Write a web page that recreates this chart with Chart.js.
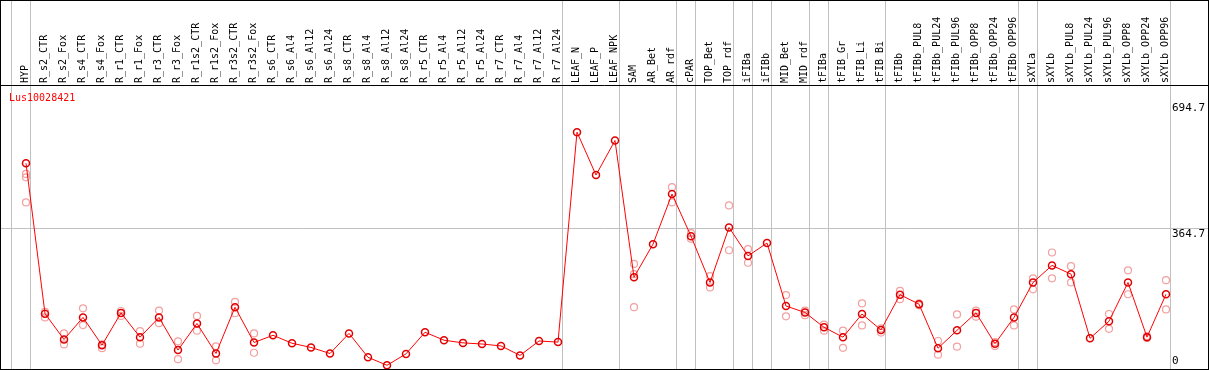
<!DOCTYPE html>
<html>
<head>
<meta charset="UTF-8">
<title>Lus10028421</title>
<script src="https://cdn.jsdelivr.net/npm/chart.js@4"></script>
<style>
  body { margin: 0; background: #fff; }
  canvas { display: block; }
</style>
</head>
<body>
<canvas id="chart" width="1209" height="370"></canvas>
<script>
  const geneId = "Lus10028421";

  const categories = [
    "HYP", "R_s2_CTR", "R_s2_Fox", "R_s4_CTR", "R_s4_Fox", "R_r1_CTR", "R_r1_Fox", "R_r3_CTR", "R_r3_Fox",
    "R_r1s2_CTR", "R_r1s2_Fox", "R_r3s2_CTR", "R_r3s2_Fox", "R_s6_CTR", "R_s6_Al4", "R_s6_Al12", "R_s6_Al24",
    "R_s8_CTR", "R_s8_Al4", "R_s8_Al12", "R_s8_Al24", "R_r5_CTR", "R_r5_Al4", "R_r5_Al12", "R_r5_Al24",
    "R_r7_CTR", "R_r7_Al4", "R_r7_Al12", "R_r7_Al24", "LEAF_N", "LEAF_P", "LEAF_NPK", "SAM", "AR_Bet", "AR_rdf",
    "cPAR", "TOP_Bet", "TOP_rdf", "iFIBa", "iFIBb", "MID_Bet", "MID_rdf", "tFIBa", "tFIB_Gr", "tFIB_Li", "tFIB_Bi",
    "tFIBb", "tFIBb_PUL8", "tFIBb_PUL24", "tFIBb_PUL96", "tFIBb_OPP8", "tFIBb_OPP24", "tFIBb_OPP96",
    "sXYLa", "sXYLb", "sXYLb_PUL8", "sXYLb_PUL24", "sXYLb_PUL96", "sXYLb_OPP8", "sXYLb_OPP24", "sXYLb_OPP96"
  ];

  // mean expression per sample
  const means = [
    536, 140, 72, 130, 57, 142, 78, 130, 44, 114, 35, 157, 64,
    83, 62, 51, 35, 88, 25, 4, 34, 91, 70, 63, 60, 55, 30, 68, 65,
    618, 505, 596,
    236, 323, 455, 344, 222, 367, 292, 326, 160, 143, 104, 78, 139, 97, 190,
    165, 49, 96, 142, 61, 130,
    222, 267, 244, 75, 120, 222, 78, 191
  ];

  // replicates
  const rep1 = [
    508, 145, 88, 154, 59, 147, 94, 148, 67, 134, 54, 171, 88,
    null, null, null, null, null, null, null, null, null, null, null, null, null, null, null, null,
    null, null, null,
    271, null, 473, 352, 239, 425, 310, null, 189, 148, 111, 95, 167, 101, 200,
    167, 68, 138, 148, 65, 151,
    233, 301, 265, null, 139, 254, 81, 228
  ];
  const rep2 = [
    499, 130, 59, 110, 49, 134, 61, 115, 20, 95, 17, 141, 37,
    null, null, null, null, null, null, null, null, null, null, null, null, null, null, null, null,
    null, null, null,
    244, null, 433, 337, 209, 307, 274, null, 133, 136, 95, 50, 109, 90, 178,
    162, 32, 53, 132, 55, 109,
    204, 233, 222, null, 100, 191, 76, 151
  ];
  const rep3 = [
    433, null, null, null, null, null, null, null, null, null, null, null, null,
    null, null, null, null, null, null, null, null, null, null, null, null, null, null, null, null,
    null, null, null,
    157, null, null, null, null, null, null, null, null, null, null, null, null, null, null,
    null, null, null, null, null, null,
    null, null, null, null, null, null, null, null
  ];

  const yTicks = [0, 364.7, 694.7];
  // group separators, drawn just after these sample indices
  const separators = [-1, 0, 28, 31, 34, 35, 37, 38, 39, 41, 42, 45, 52, 53, 60];

  const MONO = "'DejaVu Sans Mono', monospace";
  const toPoints = arr => arr.map((v, i) => ({ x: i, y: v }));
  const noPadding = s => {
    s.paddingLeft = 0; s.paddingRight = 0; s.paddingTop = 0; s.paddingBottom = 0;
  };

  const framePlugin = {
    id: "frame",
    beforeDatasetsDraw(chart) {
      const { ctx, chartArea, scales: { x } } = chart;
      ctx.save();
      ctx.strokeStyle = "#c0c0c0";
      ctx.lineWidth = 1;
      separators.forEach(i => {
        const px = Math.round(x.getPixelForValue(i) + 4) + 0.5;
        ctx.beginPath();
        ctx.moveTo(px, 1);
        ctx.lineTo(px, chartArea.bottom);
        ctx.stroke();
      });
      ctx.restore();
    },
    afterDraw(chart) {
      const { ctx, chartArea, width, height } = chart;
      ctx.save();
      ctx.strokeStyle = "#000";
      ctx.lineWidth = 1;
      ctx.strokeRect(0.5, 0.5, width - 1, height - 1);
      ctx.beginPath();
      ctx.moveTo(0, chartArea.top - 0.5);
      ctx.lineTo(width, chartArea.top - 0.5);
      ctx.stroke();
      ctx.fillStyle = "red";
      ctx.font = "10px " + MONO;
      ctx.textBaseline = "top";
      ctx.fillText(geneId, 9, 93);
      ctx.restore();
    }
  };

  const repStyle = {
    showLine: false,
    pointRadius: 3.5,
    pointBorderColor: "#f2a0a0",
    pointBorderWidth: 1.2,
    pointBackgroundColor: "rgba(0,0,0,0)",
    order: 1
  };

  new Chart(document.getElementById("chart"), {
    type: "line",
    data: {
      datasets: [
        {
          label: geneId,
          data: toPoints(means),
          borderColor: "red",
          borderWidth: 1,
          tension: 0,
          pointRadius: 3.5,
          pointBorderColor: "#e00000",
          pointBorderWidth: 1.5,
          pointBackgroundColor: "rgba(0,0,0,0)",
          order: 0
        },
        { ...repStyle, data: toPoints(rep1) },
        { ...repStyle, data: toPoints(rep2) },
        { ...repStyle, data: toPoints(rep3) }
      ]
    },
    options: {
      responsive: false,
      animation: false,
      devicePixelRatio: 1,
      layout: { autoPadding: false, padding: { left: 1, right: 1, top: 1, bottom: 1 } },
      plugins: { legend: { display: false }, tooltip: { enabled: false } },
      scales: {
        x: {
          type: "linear",
          position: "top",
          min: -25 / 19,
          max: -25 / 19 + 1207 / 19,
          afterBuildTicks: s => { s.ticks = categories.map((c, i) => ({ value: i })); },
          afterFit: s => { s.height = 85; noPadding(s); },
          grid: { display: false, drawTicks: false },
          border: { display: false },
          ticks: {
            autoSkip: false,
            minRotation: 90,
            maxRotation: 90,
            padding: 3,
            labelOffset: 11,
            color: "#000",
            font: { family: MONO, size: 10 },
            callback: v => categories[v]
          }
        },
        y: {
          position: "right",
          min: -5.8,
          max: 739.5,
          afterBuildTicks: s => { s.ticks = yTicks.map(v => ({ value: v })); },
          afterFit: s => { s.width = 0; noPadding(s); },
          grid: {
            color: c => (c.tick && c.tick.value === 364.7 ? "#c0c0c0" : "rgba(0,0,0,0)"),
            drawTicks: false
          },
          border: { display: false },
          ticks: {
            mirror: true,
            padding: -3,
            color: "#000",
            font: { family: MONO, size: 11, lineHeight: 1 },
            // left-aligned look: pad to 5 monospace chars
            callback: v => {
              const t = String(v).padEnd(5, " ");
              return v === 0 ? [t, ""] : ["", t];
            }
          }
        }
      }
    },
    plugins: [framePlugin]
  });
</script>
</body>
</html>
